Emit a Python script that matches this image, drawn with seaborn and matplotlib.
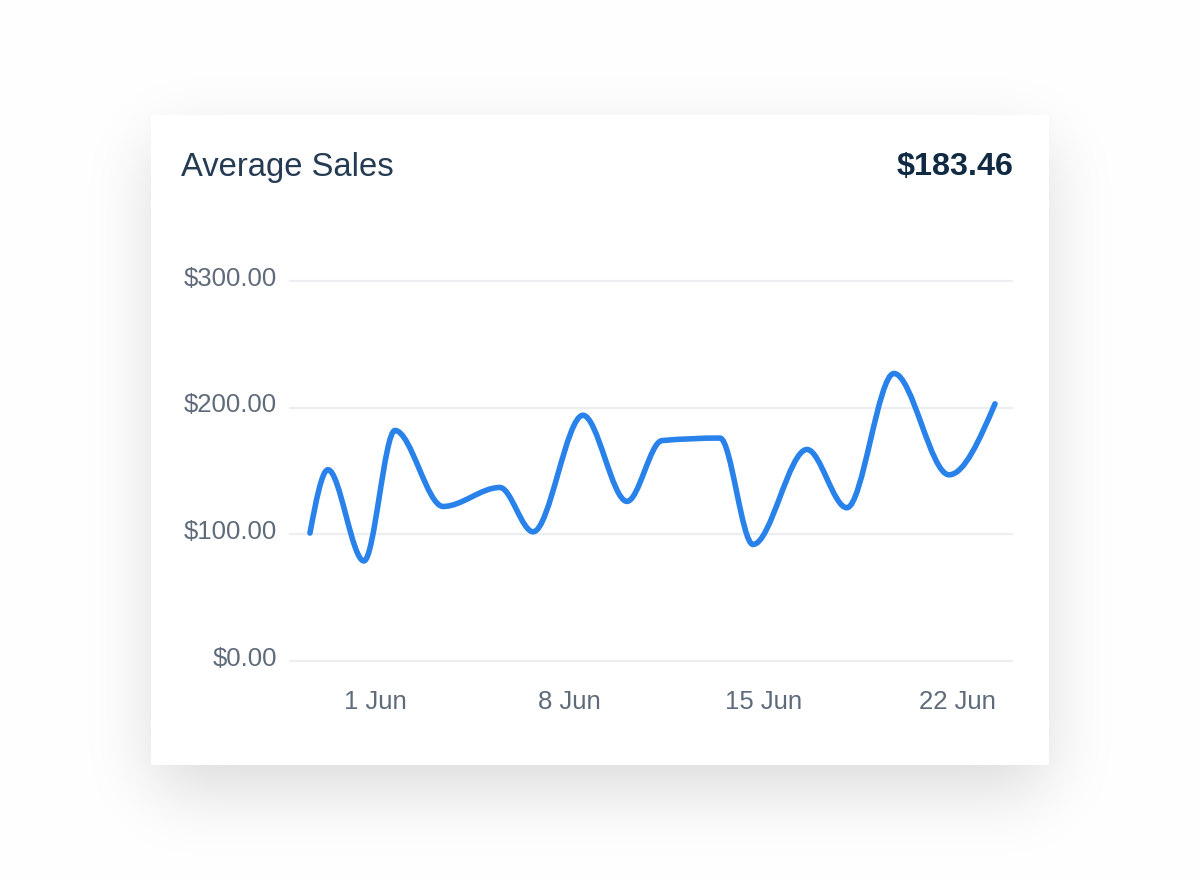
import math
import numpy as np
import matplotlib
matplotlib.use("Agg")
import matplotlib.pyplot as plt
from matplotlib.path import Path
from matplotlib.patches import PathPatch, FancyBboxPatch
import matplotlib.transforms as mtransforms
import seaborn as sns

# ---------------- data ----------------
# day offsets relative to 1 Jun (irregular sample times)
day_offset = [-2.27, -1.62, -0.32, 0.80, 2.54, 4.59, 5.79, 7.59, 9.18,
              10.44, 12.54, 13.73, 15.68, 17.12, 18.82, 20.81, 22.47]
avg_sales = [101, 151, 79, 182, 122, 137, 102, 194, 126,
             174, 176, 92, 167, 121, 227, 147, 203]
tick_days = [0, 7, 14, 21]
tick_labels = ["1 Jun", "8 Jun", "15 Jun", "22 Jun"]
y_ticks = [0, 100, 200, 300]
title_text = "Average Sales"
headline_value = "$183.46"

# ---------------- style ----------------
sns.set_theme(style="white")
plt.rcParams["font.family"] = ["Liberation Sans", "DejaVu Sans"]

W, H = 1200, 880
fig = plt.figure(figsize=(W / 100, H / 100), dpi=100)
fig.patch.set_facecolor("white")

# background: soft drop shadow + white card
bg = fig.add_axes([0, 0, 1, 1], zorder=-10)
bg.axis("off")
erf = np.vectorize(math.erf)
xs = np.arange(W) + 0.5
ys = np.arange(H) + 0.5
def band(u, a, b, s):
    r = s * math.sqrt(2)
    return 0.5 * (erf((u - a) / r) - erf((u - b) / r))
card_l, card_t, card_r, card_b = 151, 115, 1049, 765
sx = band(xs, card_l + 2, card_r - 2, 34)
sy = band(ys, card_t + 26, card_b + 26, 34)
dark = 0.14 * np.outer(sy, sx)
img = np.dstack([1 - dark] * 3)
bg.imshow(img, extent=(0, W, H, 0), interpolation="bilinear", aspect="auto", zorder=0)
bg.add_patch(FancyBboxPatch((card_l, card_t), card_r - card_l, card_b - card_t,
                            boxstyle="round,pad=0,rounding_size=3",
                            fc="white", ec="none", zorder=1))
bg.set_xlim(0, W)
bg.set_ylim(H, 0)

# ---------------- chart axes ----------------
ax_left, ax_right = 289, 1013
y0_px, y300_px = 661, 281
ppu = (y0_px - y300_px) / 300.0
ylo, yhi = -5, 305
ax_bot_px = y0_px - ylo * ppu
ax_top_px = y300_px - (yhi - 300) * ppu
ax = fig.add_axes([ax_left / W, 1 - ax_bot_px / H,
                   (ax_right - ax_left) / W, (ax_bot_px - ax_top_px) / H])
ax.set_facecolor("none")

px_per_day = 27.69
day0_px = 372.8
ax.set_xlim((ax_left - day0_px) / px_per_day, (ax_right - day0_px) / px_per_day)
ax.set_ylim(ylo, yhi)

for sp in ax.spines.values():
    sp.set_visible(False)

ax.set_yticks(y_ticks)
ax.set_yticklabels([f"${v:,.2f}" for v in y_ticks])
ax.set_xticks(tick_days)
ax.set_xticklabels(tick_labels)
ax.tick_params(axis="y", length=0, pad=8.5, labelsize=18.5, labelcolor="#5f6b7a")
ax.tick_params(axis="x", length=0, pad=16, labelsize=18.5, labelcolor="#5f6b7a")
ax.grid(False)
for v in y_ticks:
    ax.axhline(v, color="#eceef2", lw=1.6, zorder=1)

offset = mtransforms.ScaledTranslation(0, 0.05, fig.dpi_scale_trans)
for lab in ax.get_yticklabels():
    lab.set_transform(lab.get_transform() + offset)
xoff = mtransforms.ScaledTranslation(0.03, 0, fig.dpi_scale_trans)
for lab in ax.get_xticklabels():
    lab.set_transform(lab.get_transform() + xoff)

# smooth monotone (d3 curveMonotoneX style) Bezier path through the data
def monotone_path(x, y):
    x = np.asarray(x, float)
    y = np.asarray(y, float)
    n = len(x)
    h = np.diff(x)
    s = np.diff(y) / h
    t = np.zeros(n)
    sign = lambda v: -1 if v < 0 else 1
    for i in range(1, n - 1):
        h0, h1 = h[i - 1], h[i]
        s0, s1 = s[i - 1], s[i]
        p = (s0 * h1 + s1 * h0) / (h0 + h1)
        t[i] = (sign(s0) + sign(s1)) * min(abs(s0), abs(s1), 0.5 * abs(p))
    t[0] = (3 * s[0] - t[1]) / 2
    t[-1] = (3 * s[-1] - t[-2]) / 2
    verts = [(x[0], y[0])]
    codes = [Path.MOVETO]
    for i in range(n - 1):
        dx = h[i] / 3
        verts += [(x[i] + dx, y[i] + dx * t[i]),
                  (x[i + 1] - dx, y[i + 1] - dx * t[i + 1]),
                  (x[i + 1], y[i + 1])]
        codes += [Path.CURVE4] * 3
    return Path(verts, codes)

line = PathPatch(monotone_path(day_offset, avg_sales), fill=False,
                 ec="#2882ea", lw=4.0, capstyle="round", joinstyle="round",
                 transform=ax.transData, zorder=3)
ax.add_patch(line)

# ---------------- header texts ----------------
fig.text(181 / W, 1 - 176 / H, title_text, fontsize=23.6, color="#243b53",
         ha="left", va="baseline")
fig.text(1013 / W, 1 - 175.5 / H, headline_value, fontsize=23.3, fontweight="bold",
         color="#102a43", ha="right", va="baseline")

fig.savefig("out.png", dpi=100, facecolor="white")
